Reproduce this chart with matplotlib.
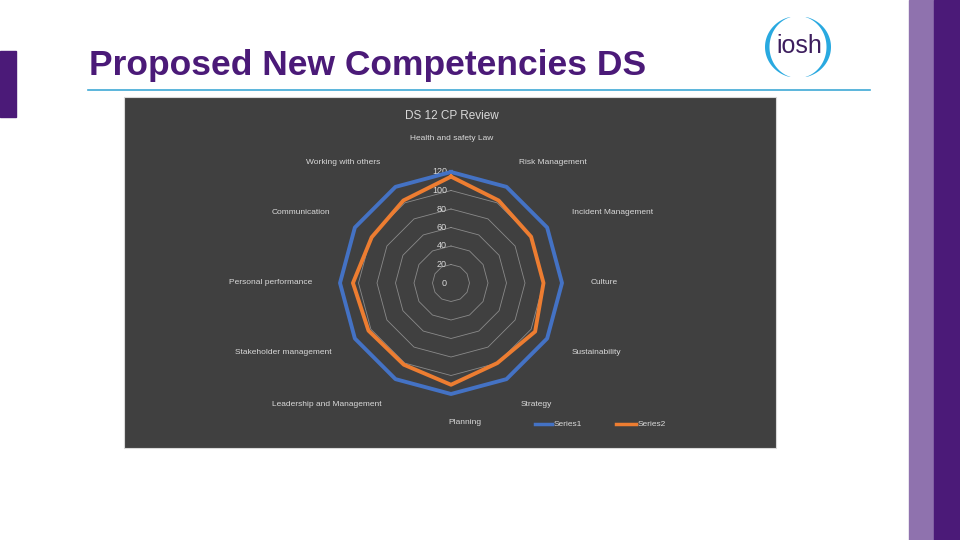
import numpy as np
import matplotlib
matplotlib.use('Agg')
import matplotlib.pyplot as plt
from matplotlib.patches import Rectangle, Polygon
from matplotlib import transforms

# data
categories = ['Health and safety Law', 'Risk Management', 'Incident Management', 'Culture',
              'Sustainability', 'Strategy', 'Planning', 'Leadership and Management',
              'Stakeholder management', 'Personal performance', 'Communication',
              'Working with others']
series1 = [120, 120, 120, 120, 120, 120, 120, 120, 120, 120, 120, 120]
series2 = [115, 103, 100, 100, 105, 100, 110, 102, 103, 106, 99, 103]
ticks = [0, 20, 40, 60, 80, 100, 120]

# label positions (pixels on the slide)
label_pos = [(452, 138), (553, 162), (613, 213), (604, 283), (596, 353), (536, 404),
             (465, 423), (327, 404), (283, 353), (271, 283), (301, 213), (343, 162)]

purple = '#4B1A78'
light_purple = '#8F72AE'
txt = '#D9D9D9'
blue = '#4472C4'
orange = '#ED7D31'

plt.rcParams['font.family'] = ['Liberation Sans', 'DejaVu Sans']

fig = plt.figure(figsize=(9.6, 5.4), dpi=100)

# slide decoration, pixel coordinates
bg = fig.add_axes([0, 0, 1, 1])
bg.set_xlim(0, 960)
bg.set_ylim(540, 0)
bg.axis('off')

bg.add_patch(Rectangle((0, 51), 16, 66, color=purple))
bg.add_patch(Rectangle((909, 0), 25, 540, color=light_purple))
bg.add_patch(Rectangle((934, 0), 26, 540, color=purple))
bg.text(89, 66, 'Proposed New Competencies DS', color=purple, fontsize=25.5,
        fontweight='bold', va='center', ha='left')
bg.plot([88, 870], [90, 90], color='#3FA9D6', lw=1.2)

# iosh logo: two crescents and the word
def crescent(a0, a1, thick):
    a = np.deg2rad(np.linspace(a0, a1, 60))
    outer = np.c_[798 + 33 * np.cos(a), 47 - 31 * np.sin(a)]
    inner = np.c_[798 + (33 - thick) * np.cos(a[::-1]), 47 - 31 * np.sin(a[::-1])]
    return np.vstack([outer, inner])

bg.add_patch(Polygon(crescent(105, 255, 4.5), closed=True, color='#29A9E0', lw=0))
bg.add_patch(Polygon(crescent(-75, 75, 4.5), closed=True, color='#29A9E0', lw=0))
bg.text(799, 46, 'iosh', color='#3D1E5E', fontsize=18, ha='center', va='center')

# chart panel
bg.add_patch(Rectangle((124, 97), 652, 351, facecolor='#404040', edgecolor='#D9D9D9', lw=0.8))
bg.text(452, 116, 'DS 12 CP Review', color=txt, fontsize=8.5, ha='center', va='center')

for lbl, (x, y) in zip(categories, label_pos):
    bg.text(x, y, lbl, color=txt, fontsize=6, ha='center', va='center')

# legend
bg.plot([535, 552], [424, 424], color=blue, lw=2.5)
bg.text(554, 424, 'Series1', color=txt, fontsize=6, ha='left', va='center')
bg.plot([616, 636], [424, 424], color=orange, lw=2.5)
bg.text(638, 424, 'Series2', color=txt, fontsize=6, ha='left', va='center')

# radar
cx, cy, rad = 451, 283, 111
ax = fig.add_axes([(cx - rad) / 960, (540 - cy - rad) / 540, 2 * rad / 960, 2 * rad / 540],
                  projection='polar')
ax.set_facecolor('none')
ax.set_theta_zero_location('N')
ax.set_theta_direction(-1)
ax.set_ylim(0, 120)
ax.grid(False)
ax.spines['polar'].set_visible(False)
ax.set_xticks([])
ax.set_yticks([])

n = len(categories)
ang = np.linspace(0, 2 * np.pi, n, endpoint=False)
ang_c = np.append(ang, ang[0])

for t in ticks[1:]:
    ax.plot(ang_c, [t] * (n + 1), color='#8A8A8A', lw=0.6, zorder=1)

off = transforms.offset_copy(ax.transData, fig=fig, x=-3, y=0, units='points')
for t in ticks:
    ax.text(0, t, str(t), color=txt, fontsize=6.5, ha='right', va='center', transform=off)

ax.plot(ang_c, series1 + series1[:1], color=blue, lw=2.8, zorder=3, clip_on=False)
ax.plot(ang_c, series2 + series2[:1], color=orange, lw=2.8, zorder=3, clip_on=False)

fig.savefig('out.png', dpi=100)
